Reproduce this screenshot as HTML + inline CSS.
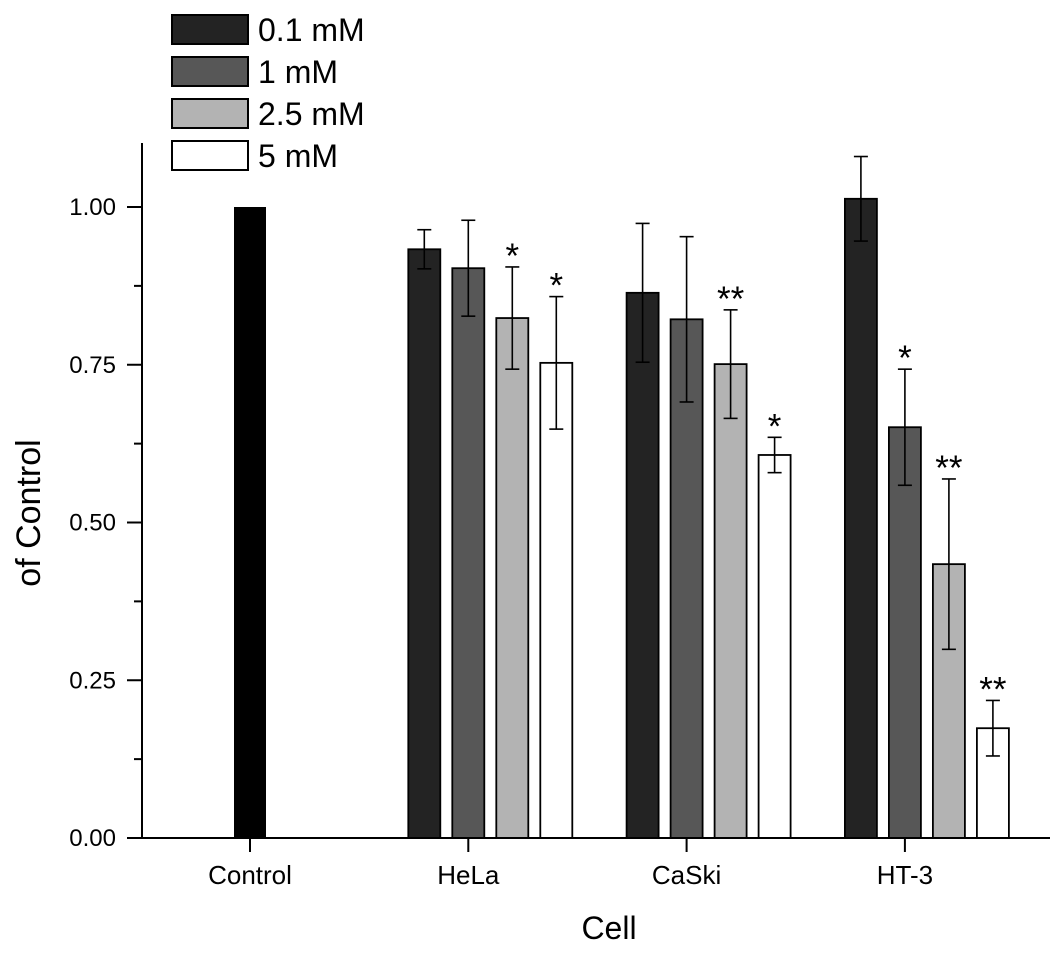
<!DOCTYPE html>
<html><head><meta charset="utf-8"><style>
body{margin:0;background:#fff}
svg text{font-family:"Liberation Sans",Arial,sans-serif;fill:#000}
</style></head><body>
<svg id="chart" width="1063" height="953" xmlns="http://www.w3.org/2000/svg">
<g id="legend"></g>
<g id="bars"></g>
<g id="axes"></g>
<text transform="translate(40,513) rotate(-90)" text-anchor="middle" font-size="34">of Control</text>
<text x="609" y="939" text-anchor="middle" font-size="32">Cell</text>
</svg>
<script>
const categories=["Control","HeLa","CaSki","HT-3"];
const seriesNames=["0.1 mM","1 mM","2.5 mM","5 mM"];
const controlValue=[1.00];
const vals01=[0.933,0.864,1.013];
const err01=[0.031,0.110,0.067];
const vals1=[0.903,0.822,0.651];
const err1=[0.076,0.131,0.092];
const vals25=[0.824,0.751,0.434];
const err25=[0.081,0.086,0.135];
const vals5=[0.753,0.607,0.174];
const err5=[0.105,0.028,0.044];
const stars1=["","","*"];
const stars25=["*","**","**"];
const stars5=["*","*","**"];
const yTicks=[0,0.25,0.5,0.75,1.0];
const yTickLabels=["0.00","0.25","0.50","0.75","1.00"];
const NS="http://www.w3.org/2000/svg";
const y=v=>838-v*631;
const x=i=>250+i*218.3;
const barW=32,step=44;
const fills=["#232323","#575757","#b3b3b3","#ffffff"];
function mk(tag,attrs,parent){const e=document.createElementNS(NS,tag);for(const k in attrs)e.setAttribute(k,attrs[k]);parent.appendChild(e);return e;}
const bars=document.getElementById('bars'),axes=document.getElementById('axes'),legend=document.getElementById('legend');
let cb=mk('rect',{x:x(0)-16,y:y(controlValue[0]),width:barW,height:838-y(controlValue[0]),fill:'#000'},bars);


const groups=[[vals01,err01,null],[vals1,err1,stars1],[vals25,err25,stars25],[vals5,err5,stars5]];
for(let c=1;c<categories.length;c++){
  for(let s=0;s<4;s++){
    const v=groups[s][0][c-1],e=groups[s][1][c-1];
    const cx=x(c)+(s-1)*step;
    const r=mk('rect',{x:cx-barW/2,y:y(v),width:barW,height:838-y(v),fill:fills[s],stroke:'#000','stroke-width':1.8},bars);
    
    
    const g=mk('g',{stroke:'#000','stroke-width':1.6},bars);
    
    
    mk('line',{x1:cx,x2:cx,y1:y(v+e),y2:y(v-e)},g);
    mk('line',{x1:cx-7,x2:cx+7,y1:y(v+e),y2:y(v+e)},g);
    mk('line',{x1:cx-7,x2:cx+7,y1:y(v-e),y2:y(v-e)},g);
    const st=groups[s][2]?groups[s][2][c-1]:"";
    if(st){const t=mk('text',{x:cx,y:y(v+e)+1,'text-anchor':'middle','font-size':35},bars);t.textContent=st;
      
      }
  }
}
mk('line',{x1:142,x2:142,y1:143,y2:839,stroke:'#000','stroke-width':2},axes);
mk('line',{x1:141,x2:1050,y1:838,y2:838,stroke:'#000','stroke-width':2},axes);
yTicks.forEach((v,i)=>{
  mk('line',{x1:127,x2:142,y1:y(v),y2:y(v),stroke:'#000','stroke-width':2},axes);
  if(i<yTicks.length-1){const m=(v+yTicks[i+1])/2;mk('line',{x1:134,x2:142,y1:y(m),y2:y(m),stroke:'#000','stroke-width':2},axes);}
  const t=mk('text',{x:116,y:y(v)+8,'text-anchor':'end','font-size':24},axes);t.textContent=yTickLabels[i];
  
  
});
categories.forEach((c,i)=>{
  mk('line',{x1:x(i),x2:x(i),y1:838,y2:852,stroke:'#000','stroke-width':2},axes);
  const t=mk('text',{x:x(i),y:884,'text-anchor':'middle','font-size':26},axes);t.textContent=c;
  
  
});
seriesNames.forEach((n,i)=>{
  const r=mk('rect',{x:172,y:15+i*42,width:76,height:29,fill:fills[i],stroke:'#000','stroke-width':2},legend);
  
  
  const t=mk('text',{x:258,y:41+i*42,'font-size':32},legend);t.textContent=n;
  
  
});
</script>
</body></html>
